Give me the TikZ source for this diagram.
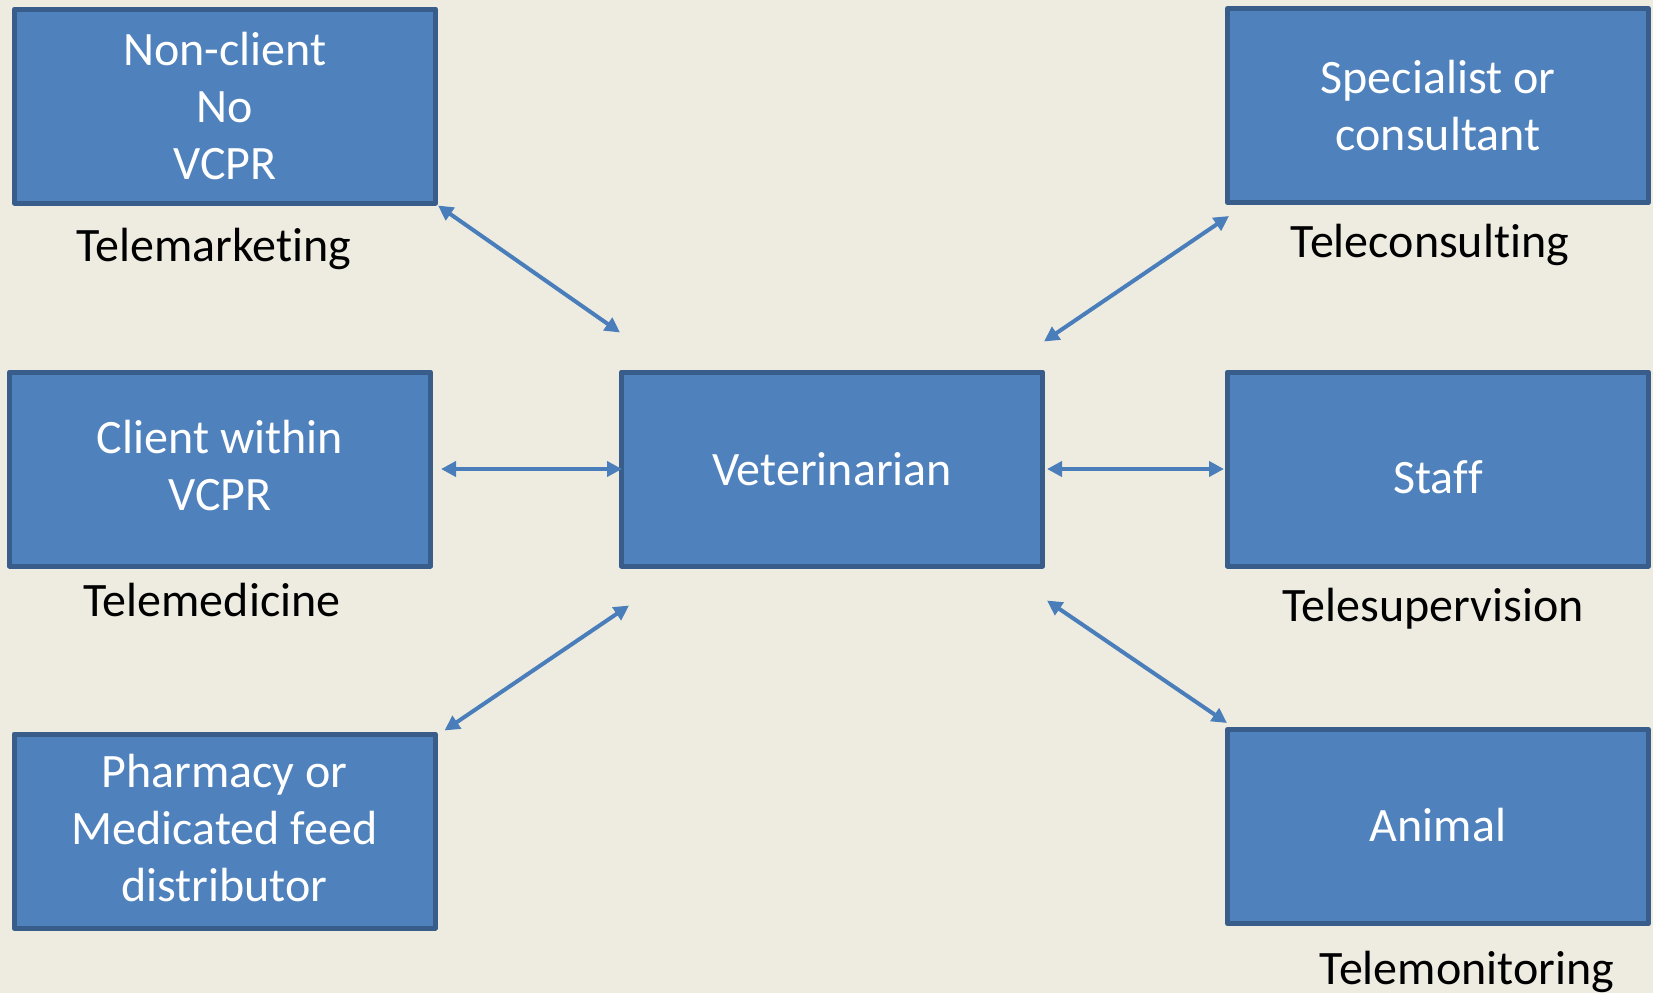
\documentclass[tikz,border=0pt]{standalone}
\usepackage{fontspec}
\setmainfont{Carlito}[Ligatures={NoCommon}]
\usetikzlibrary{arrows.meta,calc}
\definecolor{bg}{HTML}{EEECE1}
\definecolor{boxfill}{HTML}{4F81BD}
\definecolor{boxline}{HTML}{385D8A}
\definecolor{arr}{HTML}{4A7EBB}
\newcommand{\nolig}{\kern0pt }
\begin{document}
\begin{tikzpicture}[x=1pt,y=-1pt,
  box/.style={draw=boxline,fill=boxfill,line width=5pt,line join=round,minimum width=421pt,minimum height=194pt,inner sep=0pt,text=white,align=center,font=\fontsize{48}{57}\selectfont},
  boxtext/.style={inner sep=0pt,text=white,align=center,font=\fontsize{48}{57}\selectfont},
  lbl/.style={inner sep=0pt,text=black,font=\fontsize{48}{57}\selectfont},
  dbl/.style={draw=arr,line width=4pt,{Triangle[length=15pt,width=15pt]}-{Triangle[length=15pt,width=15pt]}}]
\fill[bg] (0,0) rectangle (1653,993);
\useasboundingbox (0,0) rectangle (1653,993);
\node[box] (nc) at (225,106) {Non-client\\No\\VCPR};
\node[box] (spec) at (1438,105.5) {Specialist or\\consultant};
\node[box] (client) at (220,469) {};
\node[boxtext] (clientt) at ($(client)+(0,-4)$) {Client within\\VCPR};
\node[box] (vet) at (832,469) {Veterinarian};
\node[box] (staff) at (1438,469) {};
\node[boxtext] (stafft) at ($(staff)+(0,8)$) {Staf\nolig f};
\node[box] (pharm) at (224.5,831) {};
\node[boxtext] (pharmt) at ($(pharm)+(0,-3)$) {Pharmacy or\\Medicated feed\\distributor};
\node[box] (animal) at (1438,826.5) {};
\node[boxtext] (animalt) at ($(animal)+(0,-2)$) {Animal};
\node[lbl] (l1) at (214,249) {Telemarket\nolig ing};
\node[lbl] (l2) at (1430,245) {Teleconsult\nolig ing};
\node[lbl] (l3) at (212,600) {Telemedicine};
\node[lbl] (l4) at (1433,609) {Telesupervision};
\node[lbl,anchor=base] (l5) at (1467,984) {Telemonitoring};
\draw[dbl] (nc.south east) -- ($(vet.north west)+(1,-37)$);
\draw[dbl] ($(client.east)+(8,0)$) -- ($(vet.west)+(3,0)$);
\draw[dbl] ($(spec.south west)+(4,11)$) -- ($(vet.north east)+(-1,-28)$);
\draw[dbl] ($(pharm.north east)+(7,-1)$) -- ($(vet.south west)+(10,37)$);
\draw[dbl] ($(vet.east)+(2,0)$) -- ($(staff.west)+(-1,0)$);
\draw[dbl] ($(vet.south east)+(2,32)$) -- ($(animal.north west)+(2,-4)$);
\end{tikzpicture}
\end{document}
